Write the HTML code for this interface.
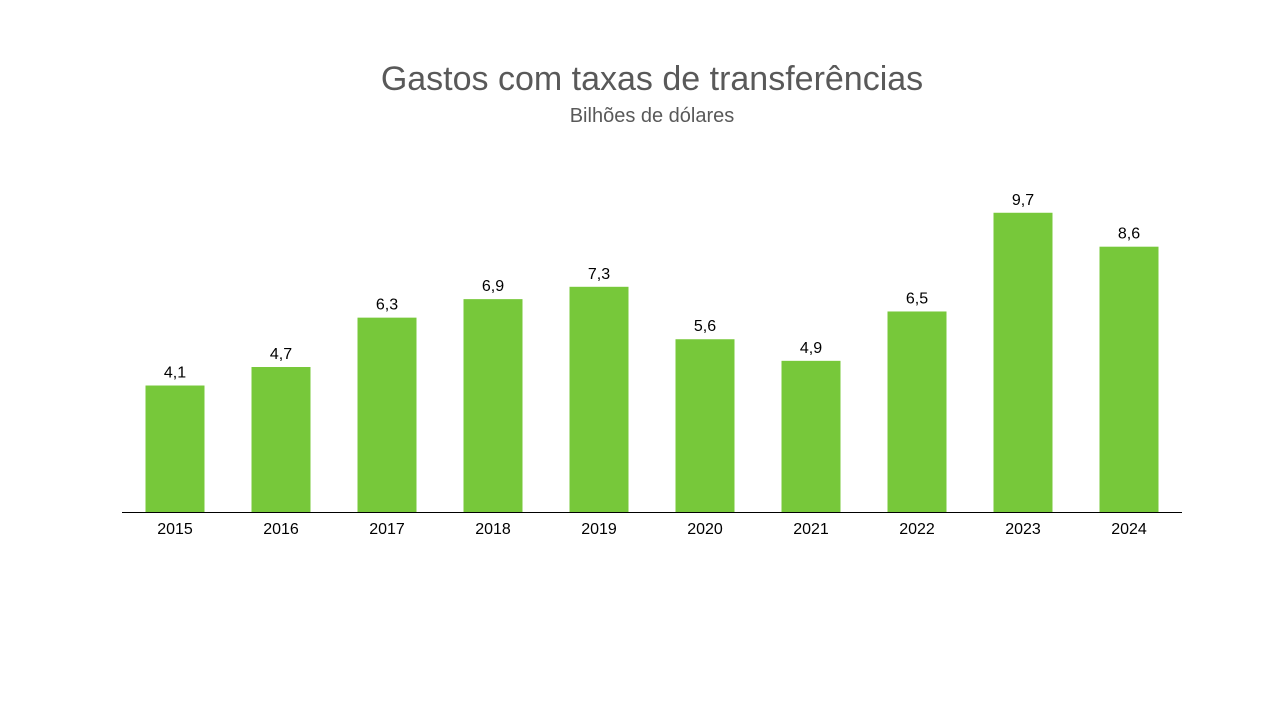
<!DOCTYPE html>
<html><head><meta charset="utf-8"><style>
body{margin:0;background:#fff;width:1280px;height:720px;overflow:hidden;font-family:"Liberation Sans",sans-serif;}
</style></head><body>
<svg width="1280" height="720">
<text x="652" y="90" text-anchor="middle" font-size="34" fill="#595959" font-family="Liberation Sans, sans-serif">Gastos com taxas de transferências</text>
<text x="652" y="122" text-anchor="middle" font-size="20" fill="#595959" font-family="Liberation Sans, sans-serif">Bilhões de dólares</text>
<g id="bars"></g>
<line x1="122" y1="512.5" x2="1182" y2="512.5" stroke="#000" stroke-width="1"/>
</svg>
<script>
const categories=["2015","2016","2017","2018","2019","2020","2021","2022","2023","2024"];
const values=[4.1,4.7,6.3,6.9,7.3,5.6,4.9,6.5,9.7,8.6];
const valueLabels=["4,1","4,7","6,3","6,9","7,3","5,6","4,9","6,5","9,7","8,6"];
const ns="http://www.w3.org/2000/svg";
const g=document.getElementById("bars");
const x0=122,plotW=1060,base=512,scale=30.85,bw=59;
const step=plotW/categories.length;
function xc(i){return x0+step*(i+0.5);}
function yv(v){return base-v*scale;}
categories.forEach((c,i)=>{
  const r=document.createElementNS(ns,"rect");
  
  
  r.setAttribute("x",xc(i)-bw/2);r.setAttribute("y",yv(values[i]));
  r.setAttribute("width",bw);r.setAttribute("height",base-yv(values[i]));
  r.setAttribute("fill","#77C83A");g.appendChild(r);
  const t=document.createElementNS(ns,"text");
  
  
  t.setAttribute("x",xc(i));t.setAttribute("y",yv(values[i])-8);
  t.setAttribute("text-anchor","middle");t.setAttribute("font-size","16");t.setAttribute("fill","#000");
  t.textContent=valueLabels[i];g.appendChild(t);
  const l=document.createElementNS(ns,"text");
  
  
  l.setAttribute("x",xc(i));l.setAttribute("y",534);
  l.setAttribute("text-anchor","middle");l.setAttribute("font-size","16");l.setAttribute("fill","#000");
  l.textContent=c;g.appendChild(l);
});
</script>
</body></html>
